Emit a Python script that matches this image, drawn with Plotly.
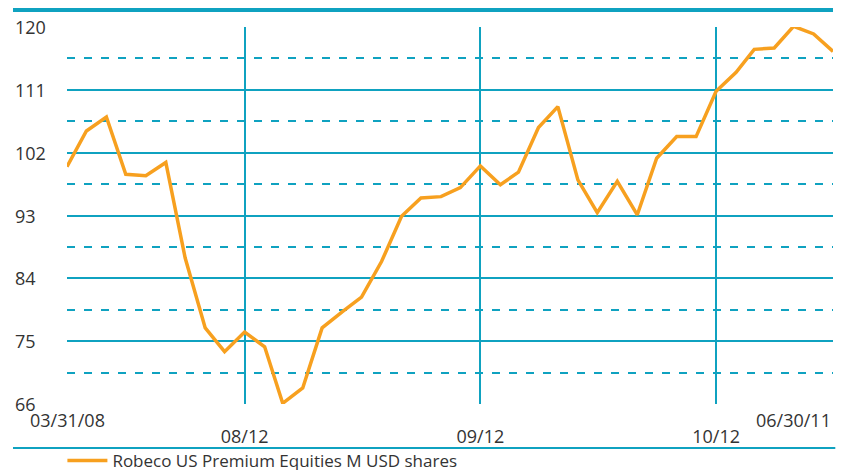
import pandas as pd
import plotly.graph_objects as go

# Month-end indexed values, 03/2008 .. 06/2011
dates = pd.date_range("2008-03-31", "2011-06-30", freq="ME")
values = [
    100.0, 105.1, 107.1, 98.9, 98.7, 100.6, 86.9, 76.9, 73.5, 76.3,
    74.2, 66.1, 68.3, 76.9, 79.2, 81.3, 86.4, 92.9, 95.5, 95.7,
    97.0, 100.1, 97.4, 99.2, 105.6, 108.6, 98.1, 93.4, 97.9, 93.1,
    101.2, 104.3, 104.3, 110.8, 113.5, 116.8, 117.0, 120.1, 119.0, 116.5,
]
series_name = "Robeco US Premium Equities M USD shares"

y_ticks = [66, 75, 84, 93, 102, 111, 120]
year_end_dates = ["2008-12-31", "2009-12-31", "2010-12-31"]
year_end_labels = ["08/12", "09/12", "10/12"]
start_label = "03/31/08"
end_label = "06/30/11"

TEAL = "#0fa2c0"
ORANGE = "#f7a01f"
TEXT = "#333333"
FONT = "Open Sans"
TICK_SIZE = 18

fig = go.Figure()
fig.add_trace(go.Scatter(
    x=dates, y=values, mode="lines", name=series_name,
    line=dict(color=ORANGE, width=3.5), cliponaxis=False,
))

fig.update_layout(
    width=844, height=470,
    margin=dict(l=67, r=11, t=27, b=66, autoexpand=False),
    paper_bgcolor="white", plot_bgcolor="white",
    font=dict(family=FONT, color=TEXT, size=TICK_SIZE),
    showlegend=True,
    legend=dict(
        orientation="h", x=-0.006, xanchor="left", y=-0.151, yanchor="middle",
        font=dict(size=17, color=TEXT), bgcolor="rgba(0,0,0,0)",
        itemwidth=40,
    ),
)

fig.update_xaxes(
    range=[dates[0], dates[-1]],
    tickvals=year_end_dates, ticktext=year_end_labels,
    showgrid=True, gridcolor=TEAL, gridwidth=1.5,
    zeroline=False, showline=False, ticks="",
    ticklabelstandoff=20, automargin=False,
    tickfont=dict(size=TICK_SIZE, color=TEXT),
)
fig.update_yaxes(
    range=[66, 120], tickvals=y_ticks, showticklabels=False,
    showgrid=True, gridcolor=TEAL, gridwidth=1.5,
    minor=dict(dtick=4.5, tick0=66, showgrid=True, gridcolor=TEAL,
               gridwidth=1.5, griddash="8px,9px"),
    zeroline=False, showline=False, ticks="", automargin=False,
)

# y-axis labels, left-aligned at the page edge
for v in y_ticks:
    fig.add_annotation(x=-0.0705, xref="paper", y=v, yref="y", text=str(v),
                       showarrow=False, xanchor="left", yanchor="middle",
                       font=dict(size=TICK_SIZE, color=TEXT))

# first and last dates on the upper label row
fig.add_annotation(x=dates[0], xref="x", y=-0.043, yref="paper", text=start_label,
                   showarrow=False, xanchor="center", yanchor="middle",
                   font=dict(size=TICK_SIZE, color=TEXT))
fig.add_annotation(x=dates[-1], xref="x", y=-0.043, yref="paper", text=end_label,
                   showarrow=False, xanchor="right", yanchor="middle",
                   font=dict(size=TICK_SIZE, color=TEXT))

# heading, partly above the page
fig.add_annotation(x=-0.0705, xref="paper", y=1.055, yref="paper",
                   text="Indexed value - End of month", showarrow=False,
                   xanchor="left", yanchor="bottom",
                   font=dict(size=15, color=TEXT))

# frame rules
fig.add_shape(type="line", xref="paper", yref="paper",
              x0=-0.0705, x1=1.0, y0=1.045, y1=1.045,
              line=dict(color=TEAL, width=4))
fig.add_shape(type="line", xref="paper", yref="paper",
              x0=-0.0705, x1=1.003, y0=-0.117, y1=-0.117,
              line=dict(color=TEAL, width=2))

fig.write_html("out.html")
